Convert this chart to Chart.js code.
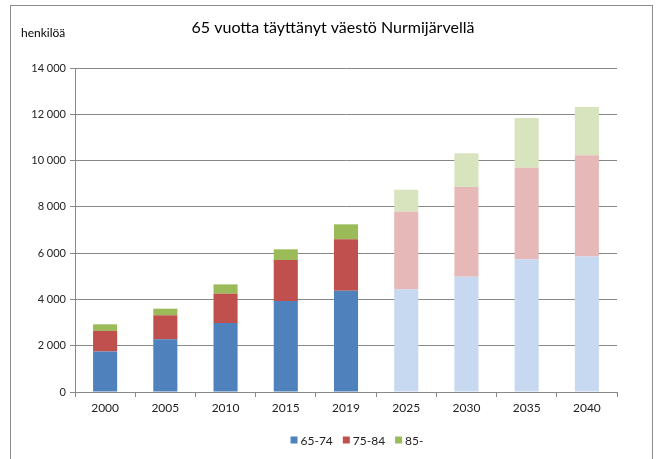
<!DOCTYPE html>
<html lang="fi">
<head>
<meta charset="utf-8">
<script src="https://cdn.jsdelivr.net/npm/chart.js@4/dist/chart.umd.min.js"></script>
<style>
  html, body { margin: 0; padding: 0; background: #fff; }
  #wrap { position: relative; width: 662px; height: 459px; overflow: hidden; }
  #frame { position: absolute; left: 10px; top: 5px; width: 643px; height: 480px; border: 1px solid #8c8c8c; box-sizing: border-box; }
  #chart { position: absolute; left: 0; top: 0; }
</style>
</head>
<body>
<div id="wrap">
  <div id="frame"></div>
  <canvas id="chart" width="662" height="459"></canvas>
</div>
<script>
"use strict";
const years = ["2000", "2005", "2010", "2015", "2019", "2025", "2030", "2035", "2040"];
const age6574 = [1750, 2275, 2980, 3930, 4375, 4440, 4985, 5735, 5850];
const age7584 = [890, 1040, 1270, 1770, 2225, 3350, 3875, 3960, 4380];
const age85 = [285, 285, 400, 465, 645, 950, 1455, 2145, 2090];
const seriesLabels = ["65-74", "75-84", "85-"];
const yTicks = [0, 2000, 4000, 6000, 8000, 10000, 12000, 14000];

const FONT = "Lato, 'Open Sans', sans-serif";
const dark = ["#4f81bd", "#c0504d", "#9bbb59"];
const light = ["#c6d9f1", "#e6b9b8", "#d7e4bd"];
const nActual = 5; // 2000-2019 toteutunut, loput ennustetta

function colorsFor(i) {
    return years.map((y, k) => (k < nActual ? dark[i] : light[i]));
}

function fmt(v) {
    return String(v).replace(/\B(?=(\d{3})+(?!\d))/g, " ");
}

// otsikko, y-akselin yksikkö ja selite piirretään itse
const textPlugin = {
    id: "texts",
    afterDraw(chart) {
        const ctx = chart.ctx;
        ctx.save();
        ctx.fillStyle = "#000";
        ctx.textBaseline = "middle";
        ctx.textAlign = "center";
        ctx.font = "16px " + FONT;
        ctx.fillText("65 vuotta täyttänyt väestö Nurmijärvellä", 333, 28);
        ctx.textAlign = "left";
        ctx.font = "12px " + FONT;
        ctx.fillText("henkilöä", 21, 33);

        // selite
        ctx.font = "12px " + FONT;
        const box = 7, gap = 3, space = 10;
        const widths = seriesLabels.map(l => ctx.measureText(l).width);
        const total = widths.reduce((a, w) => a + box + gap + w, 0) + space * (seriesLabels.length - 1);
        let x = 357 - total / 2;
        const y = 440;
        seriesLabels.forEach((l, i) => {
            ctx.fillStyle = dark[i];
            ctx.fillRect(x, y - box / 2, box, box);
            x += box + gap;
            ctx.fillStyle = "#222";
            ctx.fillText(l, x, y + 1);
            x += widths[i] + space;
        });
        ctx.restore();
    }
};

const datasets = [age6574, age7584, age85].map((vals, i) => ({
    label: seriesLabels[i],
    data: vals,
    backgroundColor: colorsFor(i),
    borderWidth: 0,
    categoryPercentage: 1,
    barPercentage: 0.4
}));

new Chart(document.getElementById("chart"), {
    type: "bar",
    data: { labels: years, datasets },
    plugins: [textPlugin],
    options: {
        responsive: false,
        animation: false,
        layout: { padding: { top: 68, right: 45, bottom: 0, left: 0 } },
        plugins: {
            title: { display: false },
            tooltip: { enabled: false },
            legend: { display: false }
        },
        scales: {
            x: {
                stacked: true,
                offset: true,
                afterFit: (s) => { s.height = 67; },
                grid: { offset: true, drawOnChartArea: false, drawTicks: true, tickLength: 5, color: "#888" },
                border: { color: "#888" },
                ticks: { color: "#222", font: { family: FONT, size: 12 }, padding: 4 }
            },
            y: {
                stacked: true,
                min: 0,
                max: 14000,
                afterBuildTicks: (s) => { s.ticks = yTicks.map(v => ({ value: v })); },
                afterFit: (s) => { s.width = 75; },
                grid: { color: "#888", tickLength: 5 },
                border: { color: "#888" },
                ticks: { color: "#222", font: { family: FONT, size: 11 }, padding: 4, callback: (v) => fmt(v) }
            }
        }
    }
});
</script>
</body>
</html>
